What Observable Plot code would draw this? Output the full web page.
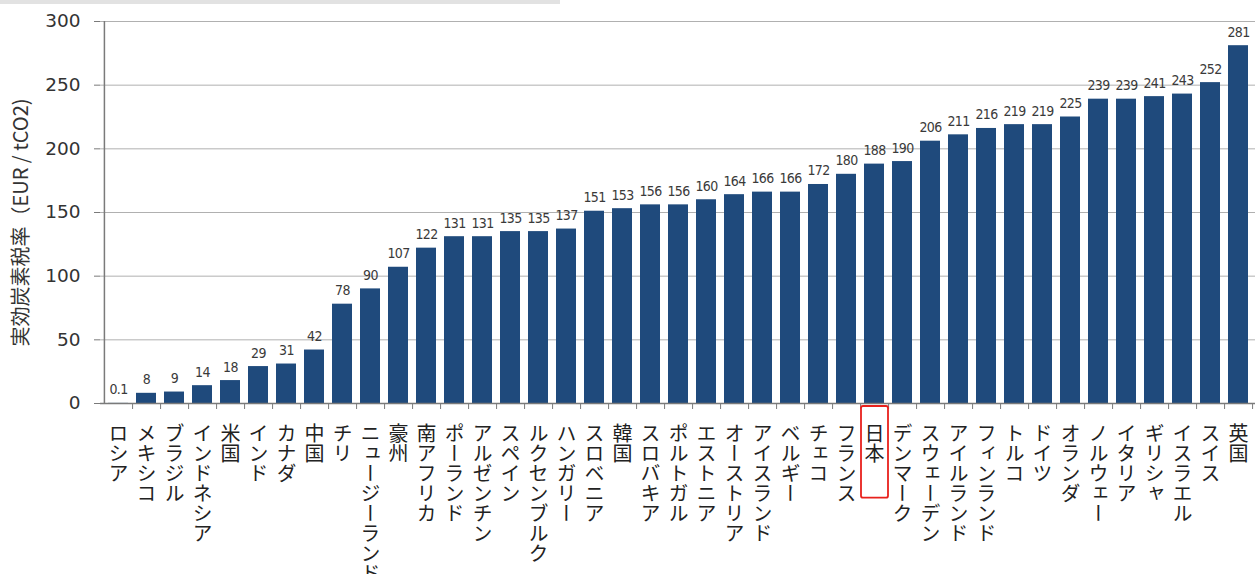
<!DOCTYPE html>
<html><head><meta charset="utf-8">
<script src="https://cdn.jsdelivr.net/npm/d3@7"></script>
<script src="https://cdn.jsdelivr.net/npm/@observablehq/plot@0.6"></script>
<style>
body{margin:0;background:#fff;}
#chart{position:relative;width:1260px;height:574px;overflow:hidden;}
.topbar{position:absolute;left:0;top:0;width:560px;height:4px;background:#e2e2e2;}
</style>
</head><body>
<div id="chart"><div class="topbar"></div></div>
<script>
const countries = ["ロシア","メキシコ","ブラジル","インドネシア","米国","インド","カナダ","中国","チリ","ニュージーランド","豪州","南アフリカ","ポーランド","アルゼンチン","スペイン","ルクセンブルク","ハンガリー","スロベニア","韓国","スロバキア","ポルトガル","エストニア","オーストリア","アイスランド","ベルギー","チェコ","フランス","日本","デンマーク","スウェーデン","アイルランド","フィンランド","トルコ","ドイツ","オランダ","ノルウェー","イタリア","ギリシャ","イスラエル","スイス","英国"];
const values = [0.1,8,9,14,18,29,31,42,78,90,107,122,131,131,135,135,137,151,153,156,156,160,164,166,166,172,180,188,190,206,211,216,219,219,225,239,239,241,243,252,281];
const yTicks = [0,50,100,150,200,250,300];
const highlighted = ["日本"];
const yLabel = "実効炭素税率（EUR / tCO2)";

const data = countries.map((c, i) => ({country: c, value: values[i]}));

const W = 1260, H = 574, mL = 100, mR = 5, mT = 21, mB = 171;
const pInner = 0.3, pOuter = 0.15;
const step = (W - mL - mR) / (countries.length - pInner + 2 * pOuter);
const half = step / 2;

const chart = Plot.plot({
  width: W, height: H,
  marginLeft: mL, marginRight: mR, marginTop: mT, marginBottom: mB,
  style: {fontFamily: "'DejaVu Sans', Verdana, sans-serif", color: "#333", background: "#fff"},
  x: {domain: countries, paddingInner: pInner, paddingOuter: pOuter, axis: null},
  y: {domain: [0, 300], axis: null},
  marks: [
    Plot.gridY(yTicks, {stroke: "#b0b0b0", strokeOpacity: 1}),
    Plot.barY(data, {x: "country", y: "value", fill: "#1f4a7c"}),
    Plot.ruleY([0], {stroke: "#7a7a7a", strokeWidth: 1.5}),
    Plot.ruleX(countries.slice(0, 1), {x: d => d, dx: -half, y1: 0, y2: 300, stroke: "#7a7a7a", strokeWidth: 1.5}),
    Plot.axisX({tickSize: 6, tickFormat: () => "", dx: half, stroke: "#7a7a7a", label: null}),
    Plot.axisY({ticks: yTicks, tickSize: 6, tickPadding: 14, fontSize: 18.5, stroke: "#7a7a7a",
      label: yLabel, labelAnchor: "center", labelArrow: false, labelOffset: 87, fill: "#333"}),
    Plot.text(data, {x: "country", y: "value", text: d => String(d.value), lineAnchor: "bottom", dy: -9,
      fontSize: 14, fill: "#3a3a3a", fontFamily: "'DejaVu Sans Condensed', 'DejaVu Sans', sans-serif"}),
    Plot.text(countries, {x: d => d, frameAnchor: "bottom", text: d => d, textAnchor: "start",
      lineAnchor: "top", dy: 6, fontSize: 20, fill: "#222",
      fontFamily: "'Noto Sans CJK JP', sans-serif"})
  ]
});
document.getElementById("chart").appendChild(chart);

// y label font and position
d3.select(chart).selectAll('[aria-label="y-axis label"] text')
  .style("font-size", "20px").style("font-family", "'Noto Sans CJK JP', 'DejaVu Sans', sans-serif")
  .attr("dx", -10);

// value label letter spacing
d3.select(chart).selectAll("text")
  .filter(function() { return values.map(String).includes(this.textContent) && this.closest('[aria-label="text"]'); })
  .style("letter-spacing", "-0.6px");

// vertical writing for country labels
const labelTexts = d3.select(chart).selectAll("text")
  .filter(function() { return countries.includes(this.textContent); });
labelTexts.style("writing-mode", "vertical-rl").style("text-orientation", "upright").attr("dy", null);

// red box around highlighted label
labelTexts.each(function() {
  if (highlighted.includes(this.textContent)) {
    const r = this.getBoundingClientRect();
    const s = chart.getBoundingClientRect();
    const cx = (r.left + r.right) / 2 - s.left;
    d3.select(chart).append("rect")
      .attr("x", cx - 13.5).attr("y", 403 + 3)
      .attr("width", 27).attr("height", r.bottom - s.top + 34 - 406)
      .attr("rx", 2).attr("fill", "none").attr("stroke", "#e8211c").attr("stroke-width", 1.8);
  }
});
</script>
</body></html>
